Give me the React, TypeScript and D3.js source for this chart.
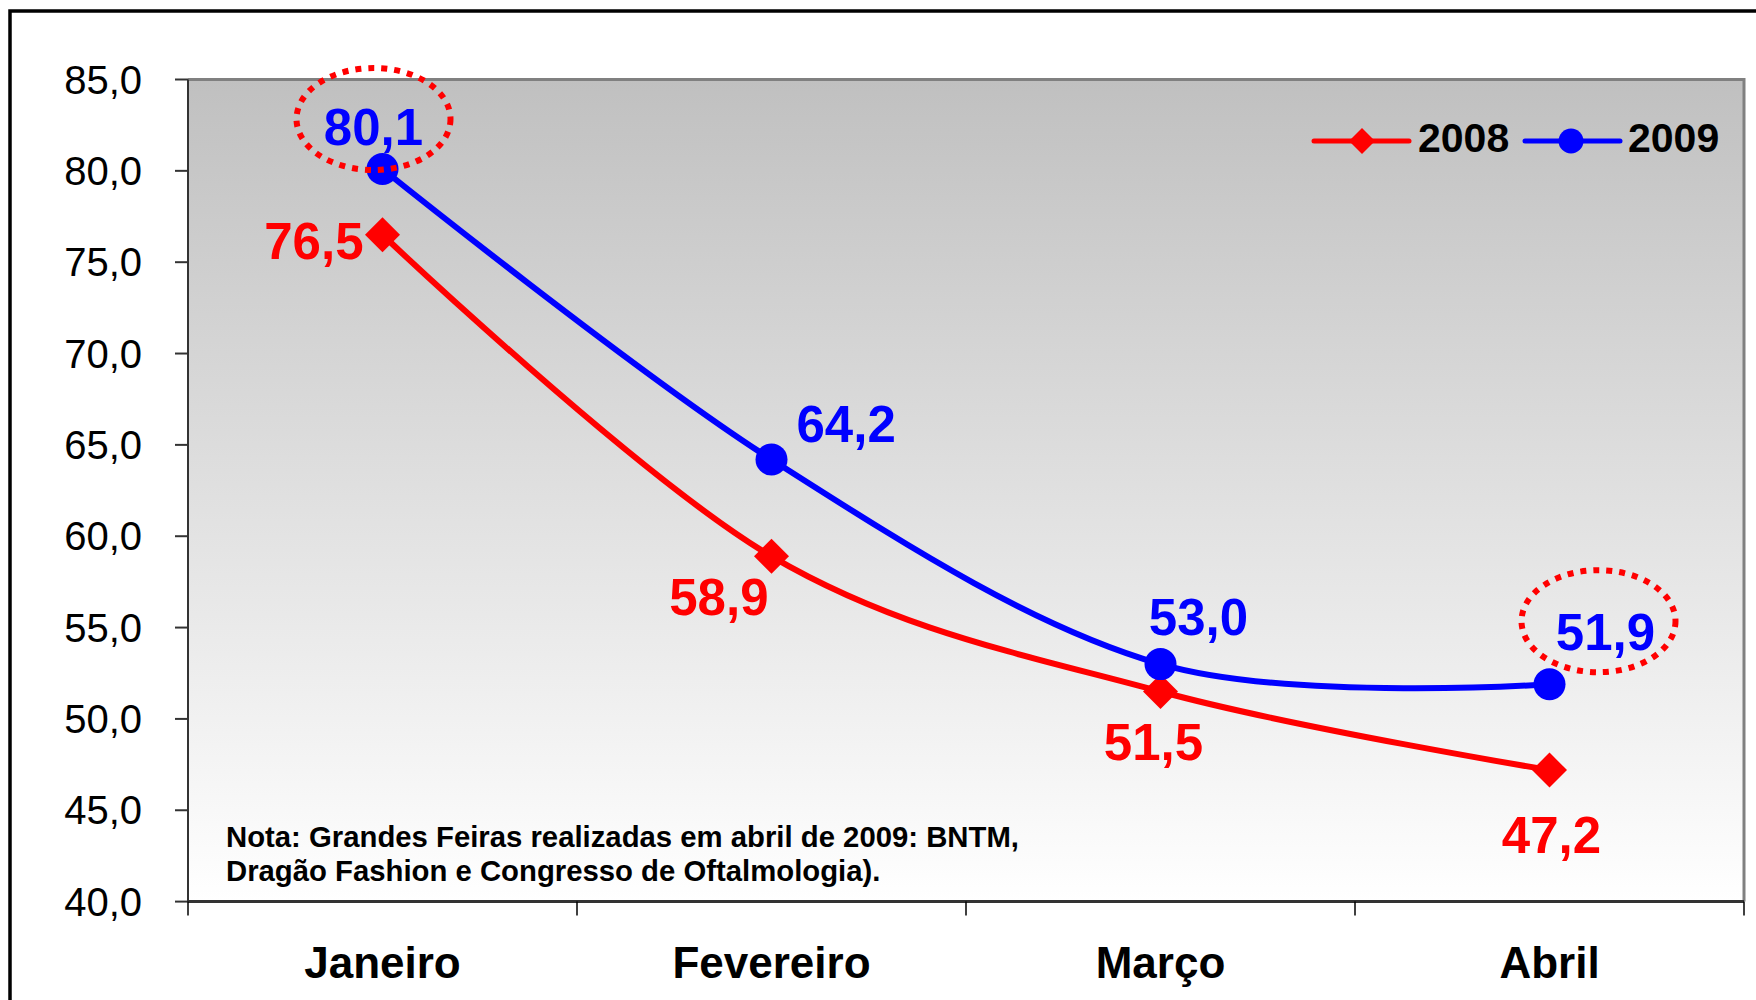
import * as d3 from "d3";

const months = ["Janeiro", "Fevereiro", "Março", "Abril"];
const values2008 = [76.5, 58.9, 51.5, 47.2];
const values2009 = [80.1, 64.2, 53.0, 51.9];
const yTicks = [40, 45, 50, 55, 60, 65, 70, 75, 80, 85];
const noteLines = [
  "Nota: Grandes Feiras realizadas em abril de 2009: BNTM,",
  "Dragão Fashion e Congresso de Oftalmologia).",
];
// which points get the dotted red highlight (2009 series)
const highlighted = ["Janeiro", "Abril"];

// label offsets relative to each point: [dx, dy, anchor]
const labelPos2008: [number, number, string][] = [
  [-19, 24, "end"],
  [-3, 59, "end"],
  [-7, 68, "middle"],
  [2, 83, "middle"],
];
const labelPos2009: [number, number, string][] = [
  [-9, -24, "middle"],
  [25, -17, "start"],
  [38, -29, "middle"],
  [56, -34, "middle"],
];
const ellipseOffset: Record<string, [number, number]> = {
  Janeiro: [-9, -50],
  Abril: [49, -63],
};

const W = 1756;
const H = 1000;
const plot = { left: 188, right: 1744, top: 79.5, bottom: 901.6 };
const font = "'Liberation Sans', Arial, sans-serif";

const locale = d3.formatLocale({
  decimal: ",",
  thousands: ".",
  grouping: [3],
  currency: ["R$", ""],
});
const fmt = locale.format(".1f");

export default function App() {
  const x = d3
    .scaleBand<string>()
    .domain(months)
    .range([plot.left, plot.right])
    .padding(0);
  const y = d3.scaleLinear().domain([40, 85]).range([plot.bottom, plot.top]);
  const cx = (m: string) => (x(m) as number) + x.bandwidth() / 2;

  const line = d3
    .line<number>()
    .x((_, i) => cx(months[i]))
    .y((v) => y(v))
    .curve(d3.curveCardinal.tension(0));

  const diamond = (r: number) => `M0,${-r}L${r},0L0,${r}L${-r},0Z`;

  return (
    <>
      <style>{`body{margin:0}`}</style>
      <svg width={W} height={H} style={{ display: "block", fontFamily: font }}>
        <defs>
          <linearGradient id="bg" x1="0" y1="0" x2="0" y2="1">
            <stop offset="0" stopColor="#c0c0c0" />
            <stop offset="1" stopColor="#ffffff" />
          </linearGradient>
        </defs>
        <rect width={W} height={H} fill="#fff" />
        <rect x={10} y={11} width={W + 100} height={H + 100} fill="none" stroke="#000" strokeWidth={3.5} />

        {/* plot area */}
        <rect
          x={plot.left}
          y={plot.top}
          width={plot.right - plot.left}
          height={plot.bottom - plot.top}
          fill="url(#bg)"
        />
        <path
          d={`M${plot.left},${plot.top}H${plot.right}V${plot.bottom}`}
          fill="none"
          stroke="#808080"
          strokeWidth={3}
        />
        <line x1={plot.left} x2={plot.left} y1={plot.top} y2={plot.bottom} stroke="#333" strokeWidth={2} />
        <line x1={plot.left} x2={plot.right} y1={plot.bottom} y2={plot.bottom} stroke="#333" strokeWidth={3} />

        {/* y axis */}
        {yTicks.map((t) => (
          <g key={t}>
            <line x1={plot.left - 13} x2={plot.left} y1={y(t)} y2={y(t)} stroke="#333" strokeWidth={2} />
            <text x={142} y={y(t) + 14} textAnchor="end" fontSize={40} fill="#000">
              {fmt(t)}
            </text>
          </g>
        ))}

        {/* x axis */}
        {[...months.map((m) => x(m) as number), plot.right].map((v, i) => (
          <line key={i} x1={v} x2={v} y1={plot.bottom} y2={plot.bottom + 14} stroke="#000" strokeWidth={1.5} />
        ))}
        {months.map((m) => (
          <text key={m} x={cx(m)} y={978} textAnchor="middle" fontSize={44} fontWeight="bold" fill="#000">
            {m}
          </text>
        ))}

        {/* note */}
        {noteLines.map((l, i) => (
          <text key={i} x={226} y={847 + i * 34} fontSize={29.3} fontWeight="bold" fill="#000">
            {l}
          </text>
        ))}

        {/* series */}
        <path d={line(values2008) ?? ""} fill="none" stroke="#ff0000" strokeWidth={6} />
        <path d={line(values2009) ?? ""} fill="none" stroke="#0000ff" strokeWidth={6} />
        {values2008.map((v, i) => (
          <path key={i} d={diamond(17.5)} transform={`translate(${cx(months[i])},${y(v)})`} fill="#ff0000" />
        ))}
        {values2009.map((v, i) => (
          <circle key={i} cx={cx(months[i])} cy={y(v)} r={16} fill="#0000ff" />
        ))}

        {/* highlight ellipses */}
        {highlighted.map((m) => {
          const i = months.indexOf(m);
          const [dx, dy] = ellipseOffset[m];
          return (
            <ellipse
              key={m}
              cx={cx(m) + dx}
              cy={y(values2009[i]) + dy}
              rx={77}
              ry={51}
              fill="none"
              stroke="#ff0000"
              strokeWidth={6}
              strokeDasharray="6 7"
            />
          );
        })}

        {/* data labels */}
        {values2008.map((v, i) => (
          <text
            key={i}
            x={cx(months[i]) + labelPos2008[i][0]}
            y={y(v) + labelPos2008[i][1]}
            textAnchor={labelPos2008[i][2] as any}
            fontSize={51}
            fontWeight="bold"
            fill="#ff0000"
          >
            {fmt(v)}
          </text>
        ))}
        {values2009.map((v, i) => (
          <text
            key={i}
            x={cx(months[i]) + labelPos2009[i][0]}
            y={y(v) + labelPos2009[i][1]}
            textAnchor={labelPos2009[i][2] as any}
            fontSize={51}
            fontWeight="bold"
            fill="#0000ff"
          >
            {fmt(v)}
          </text>
        ))}

        {/* legend */}
        <g>
          <line x1={1314} x2={1409} y1={141} y2={141} stroke="#ff0000" strokeWidth={5} strokeLinecap="round" />
          <path d={diamond(13)} transform="translate(1362,141)" fill="#ff0000" />
          <text x={1418} y={152} fontSize={41} fontWeight="bold" fill="#000">
            2008
          </text>
          <line x1={1525} x2={1620} y1={141} y2={141} stroke="#0000ff" strokeWidth={5} strokeLinecap="round" />
          <circle cx={1571} cy={141} r={12.5} fill="#0000ff" />
          <text x={1628} y={152} fontSize={41} fontWeight="bold" fill="#000">
            2009
          </text>
        </g>
      </svg>
    </>
  );
}
